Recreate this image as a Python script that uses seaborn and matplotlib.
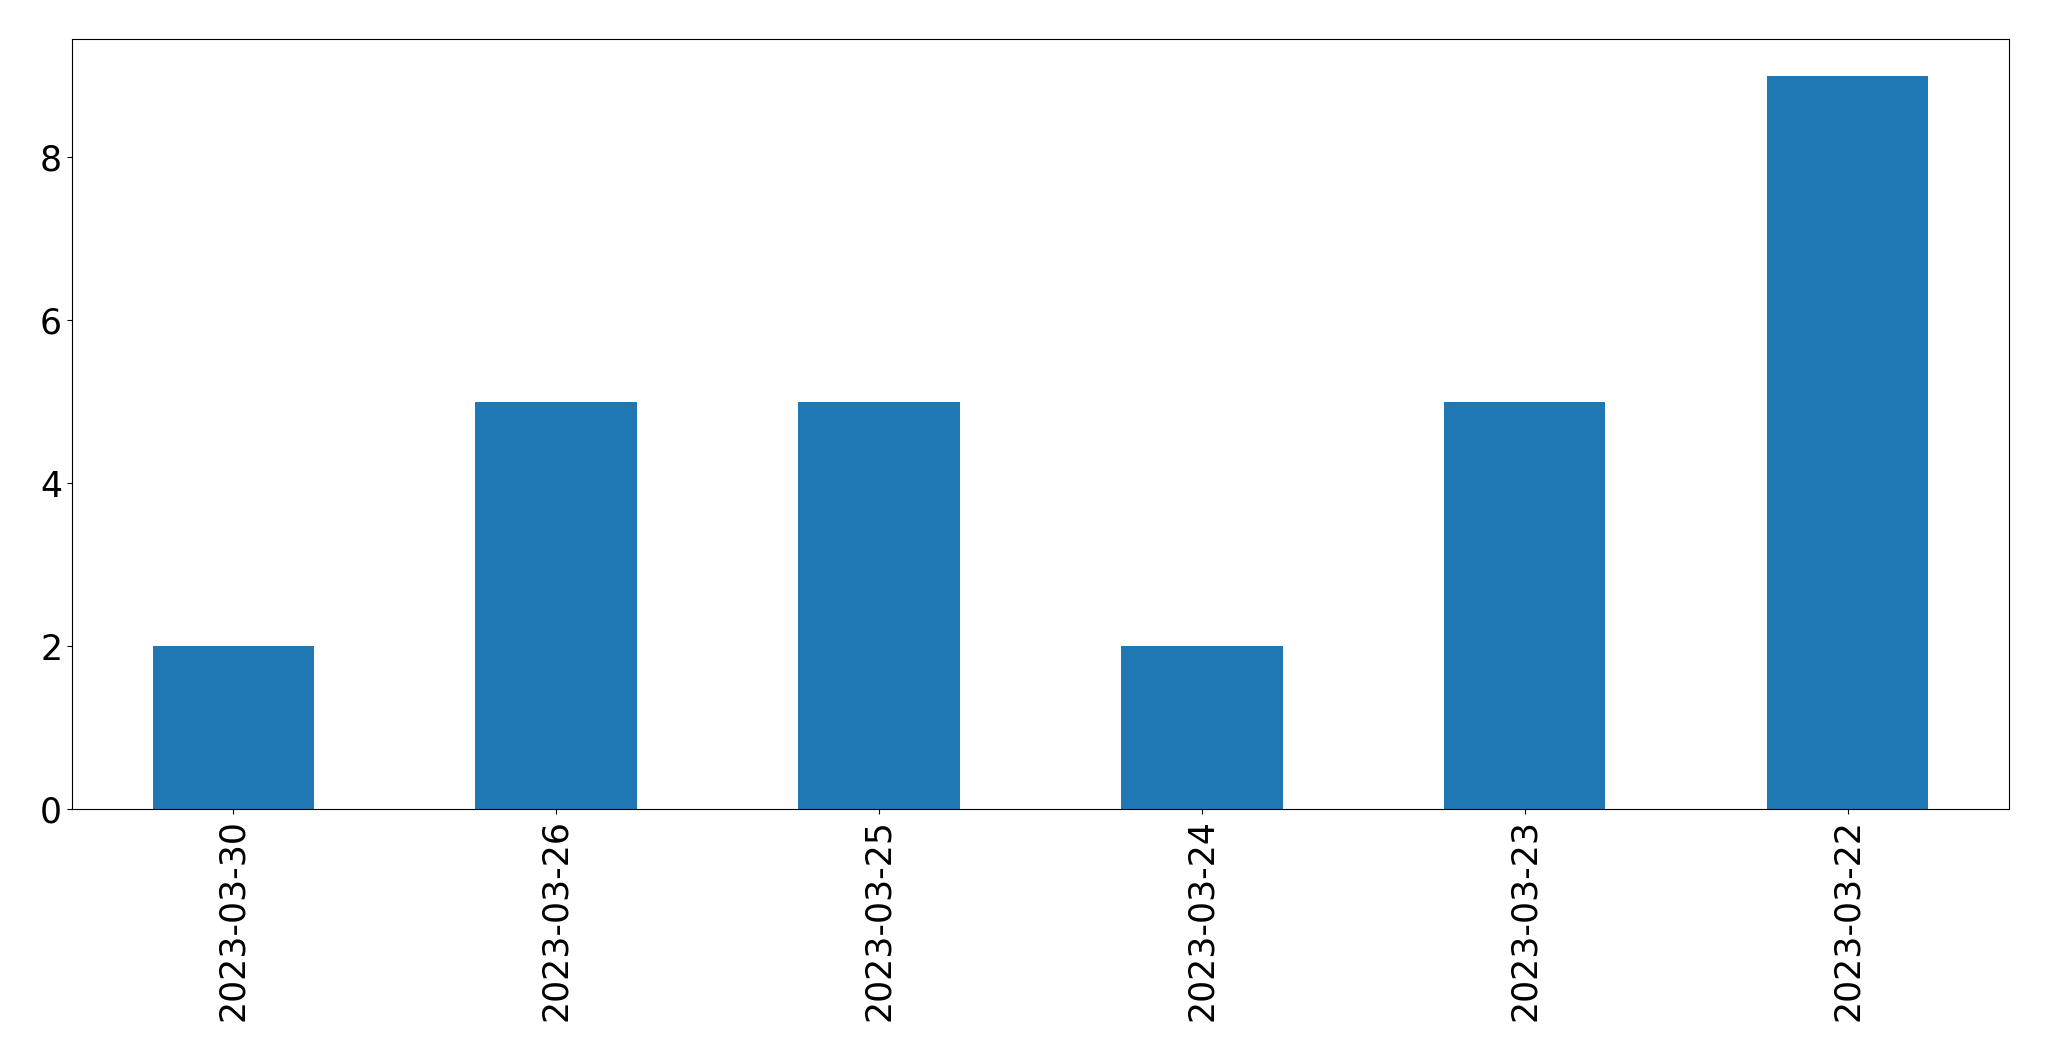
import matplotlib
matplotlib.use("Agg")
import matplotlib.pyplot as plt
import seaborn as sns
import pandas as pd

# counts per date, in the order shown
dates = ['2023-03-30', '2023-03-26', '2023-03-25', '2023-03-24', '2023-03-23', '2023-03-22']
counts = [2, 5, 5, 2, 5, 9]

df = pd.DataFrame({'date': dates, 'count': counts})

fig, ax = plt.subplots(figsize=(20.49, 10.61), dpi=100)
sns.barplot(data=df, x='date', y='count', order=dates, color='#1f77b4',
            saturation=1, width=0.5, ax=ax)

ax.set_xlim(-0.5, len(dates) - 0.5)
ax.set_ylim(0, 9.45)
ax.set_xlabel('')
ax.set_ylabel('')
ax.tick_params(axis='x', labelrotation=90, labelsize=25)
ax.tick_params(axis='y', labelsize=25)

plt.subplots_adjust(left=0.0351, right=0.9805, top=0.9632, bottom=0.2375)
plt.savefig('out.png', dpi=100)
